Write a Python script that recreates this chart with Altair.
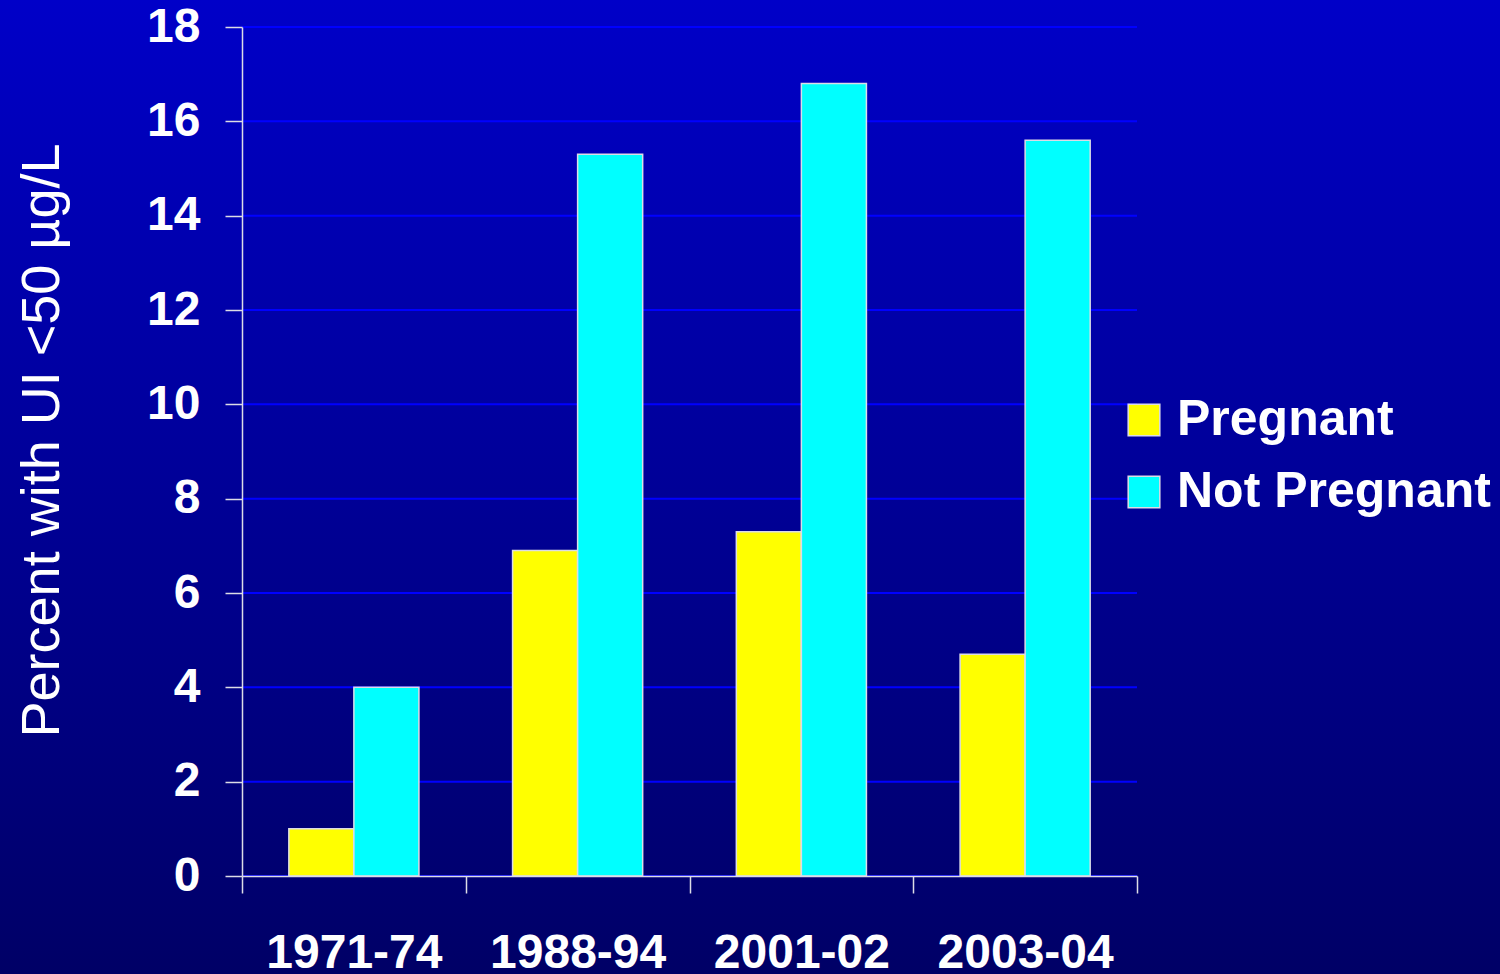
import altair as alt
import pandas as pd

periods = ["1971-74", "1988-94", "2001-02", "2003-04"]
groups = ["Pregnant", "Not Pregnant"]
pregnant = [1.0, 6.9, 7.3, 4.7]
not_pregnant = [4.0, 15.3, 16.8, 15.6]
y_ticks = [0, 2, 4, 6, 8, 10, 12, 14, 16, 18]
colors = ["#FFFF00", "#00FFFF"]

rows = []
for p, a, b in zip(periods, pregnant, not_pregnant):
    rows.append({"period": p, "group": groups[0], "value": a})
    rows.append({"period": p, "group": groups[1], "value": b})
df = pd.DataFrame(rows)
grid_df = pd.DataFrame({"tick": y_ticks})

FONT = "Liberation Sans"
LINE = "#DCDCE6"

bg = alt.Chart(alt.Data(values=[{}])).mark_rect(
    fill=alt.LinearGradient(
        gradient="linear",
        stops=[alt.GradientStop(color="#0000C8", offset=0),
               alt.GradientStop(color="#000066", offset=1)],
        x1=0, x2=0, y1=0, y2=1,
    ),
    clip=False,
).encode(
    x=alt.value(-242), x2=alt.value(1258),
    y=alt.value(-27), y2=alt.value(947),
)

grid = alt.Chart(grid_df).mark_rule(color="#0000FF", strokeWidth=2).encode(
    y=alt.Y("tick:Q", scale=alt.Scale(domain=[0, 18], nice=False))
)

bars = alt.Chart(df).mark_bar(stroke=LINE, strokeWidth=1.5).encode(
    x=alt.X(
        "period:N", sort=periods,
        scale=alt.Scale(paddingInner=0, paddingOuter=0),
        axis=alt.Axis(
            title=None, labelAngle=0, tickBand="extent", tickSize=17,
            tickColor=LINE, tickWidth=1.5, domainColor=LINE, domainWidth=1.5,
            labelPadding=36, labelFont=FONT, labelFontSize=48,
            labelFontWeight="bold", labelColor="white", labelOverlap=False,
            labelLimit=1000, zindex=1,
        ),
    ),
    xOffset=alt.XOffset(
        "group:N", sort=groups,
        scale=alt.Scale(paddingInner=0, paddingOuter=0.72),
    ),
    y=alt.Y(
        "value:Q", stack=None,
        scale=alt.Scale(domain=[0, 18], nice=False),
        axis=alt.Axis(
            values=y_ticks, grid=False, tickSize=17, tickColor=LINE,
            tickWidth=1.5, domainColor=LINE, domainWidth=1.5,
            labelPadding=25, labelFont=FONT, labelFontSize=48,
            labelFontWeight="bold", labelColor="white", labelLimit=1000,
            title="Percent with UI <50 µg/L", titleFont=FONT,
            titleFontSize=54, titleFontWeight="normal", titleColor="white",
            titleAngle=270, titleX=-184, titleY=413,
            titleBaseline="alphabetic", titleAlign="center", zindex=1,
        ),
    ),
    color=alt.Color(
        "group:N",
        scale=alt.Scale(domain=groups, range=colors),
        legend=alt.Legend(
            orient="none", legendX=877, legendY=368, title=None,
            symbolType="square", symbolSize=1000, symbolStrokeColor=LINE,
            symbolStrokeWidth=1.5, symbolOpacity=1,
            labelFont=FONT, labelFontSize=50, labelFontWeight="bold",
            labelColor="white", labelOffset=8, labelLimit=1000,
            rowPadding=22,
        ),
    ),
)

chart = alt.layer(bg, grid, bars).properties(
    width=895, height=849,
    autosize=alt.AutoSizeParams(type="none"),
    padding={"left": 242, "top": 27, "right": 363, "bottom": 98},
    background="#000066",
).configure_view(stroke=None)

chart.save("out.html", embed_options={"renderer": "svg", "actions": False})
